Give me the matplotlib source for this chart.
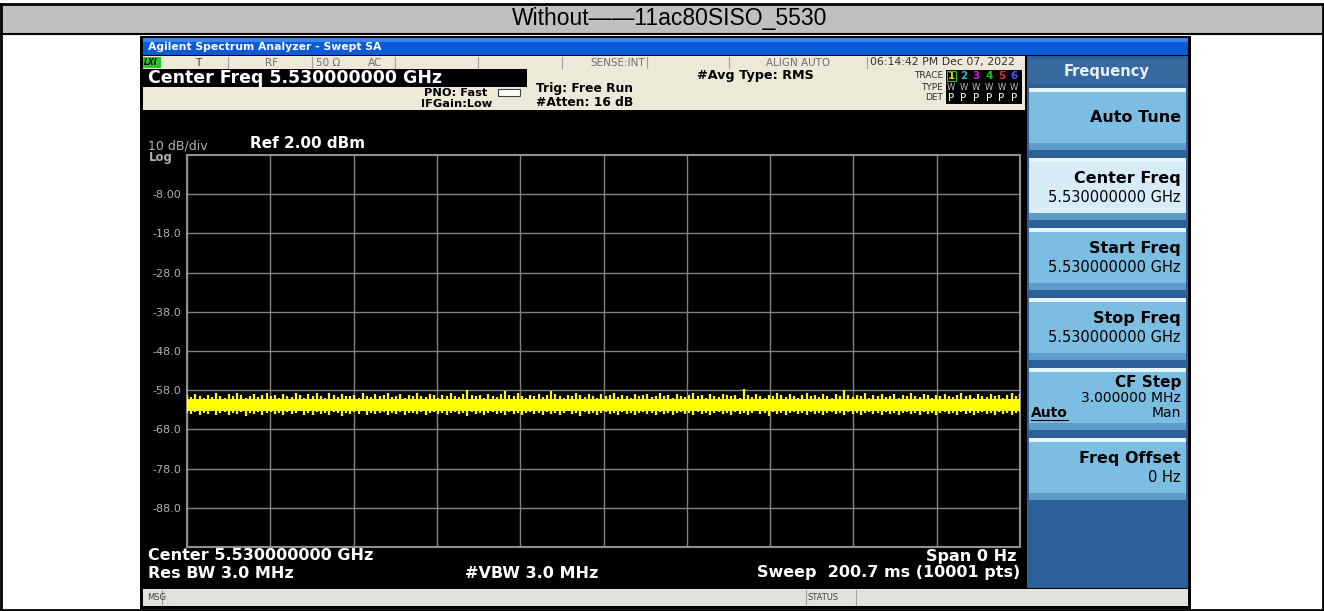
import numpy as np
import matplotlib
matplotlib.use("Agg")
import matplotlib.pyplot as plt
from matplotlib.patches import Rectangle

# the analyzer screen uses a wide sans; DejaVu is the closest match
plt.rcParams['font.family'] = ['DejaVu Sans']

# ---- data ----
title_text = "Without\u2014\u201411ac80SISO_5530"
ref_level = 2.0          # dBm, top of the graticule
db_per_div = 10
n_div = 10
sweep_ms = 200.7
core_top = -60.2         # solid part of the noise band, dBm
core_bottom = -63.2
ytick_labels = ["-8.00", "-18.0", "-28.0", "-38.0", "-48.0", "-58.0", "-68.0", "-78.0", "-88.0"]

# per-column max / min of the zero-span noise trace (dBm)
trace_hi = [
    -59.2, -59.8, -58.9, -59.5, -60.0, -59.1, -59.7, -58.7, -59.4, -59.9,
    -59.0, -59.6, -58.6, -59.3, -59.9, -59.5, -58.9, -59.7, -59.2, -58.8,
    -59.6, -59.1, -59.9, -58.9, -59.4, -59.8, -58.7, -59.3, -59.9, -59.0,
    -59.6, -58.8, -59.4, -59.9, -58.6, -59.3, -59.8, -59.0, -59.6, -59.4,
    -59.1, -59.9, -58.8, -59.5, -59.8, -58.9, -59.6, -59.2, -58.7, -59.8,
    -59.4, -59.0, -59.9, -59.1, -59.6, -58.6, -59.4, -59.8, -58.9, -59.3,
    -59.9, -59.1, -59.6, -58.8, -59.4, -59.8, -59.0, -58.0, -59.3, -59.6,
    -59.1, -59.9, -58.9, -59.4, -59.8, -59.0, -58.2, -59.3, -59.6, -58.8,
    -59.4, -59.9, -59.1, -59.6, -58.9, -59.8, -59.2, -58.1, -59.0, -59.5,
    -59.9, -59.1, -59.6, -58.7, -59.3, -59.8, -59.0, -59.4, -59.9, -58.9,
    -59.6, -59.2, -58.8, -59.8, -59.1, -59.4, -59.9, -59.0, -59.6, -59.2,
    -58.9, -59.8, -59.4, -58.7, -59.6, -59.1, -59.9, -59.0, -59.4, -59.8,
    -59.2, -58.8, -59.6, -59.1, -59.9, -58.9, -59.4, -59.8, -59.0, -59.3,
    -59.6, -59.1, -59.9, -57.6, -59.3, -59.8, -58.9, -59.4, -59.9, -59.1,
    -59.6, -58.8, -59.3, -59.8, -59.0, -59.4, -59.9, -59.1, -58.7, -59.6,
    -59.2, -59.8, -58.9, -59.4, -59.9, -59.0, -59.6, -58.0, -59.3, -59.8,
    -59.1, -59.4, -58.8, -59.9, -59.2, -59.6, -59.0, -59.8, -59.4, -58.9,
    -59.9, -59.1, -59.6, -58.7, -59.4, -59.8, -59.0, -59.3, -59.9, -59.1,
    -59.6, -58.9, -59.4, -59.8, -59.1, -58.8, -59.6, -59.2, -59.9, -59.0,
    -59.4, -59.8, -58.9, -59.6, -59.1, -59.9, -59.2, -58.8, -59.4, -59.0,
]
trace_lo = [
    -63.8, -64.1, -63.5, -64.4, -63.7, -64.0, -63.4, -64.2, -63.9, -63.6,
    -64.3, -63.7, -64.0, -63.5, -64.5, -63.8, -64.1, -63.6, -64.2, -63.9,
    -63.5, -64.0, -63.7, -64.3, -63.6, -64.1, -63.8, -63.4, -64.2, -63.9,
    -64.4, -63.6, -64.0, -63.7, -64.2, -63.5, -63.9, -64.6, -63.8, -64.1,
    -63.6, -64.0, -63.4, -64.3, -63.7, -64.1, -63.9, -63.5, -64.2, -63.8,
    -64.0, -63.6, -64.4, -63.7, -63.9, -64.1, -63.5, -64.2, -63.8, -63.6,
    -64.0, -63.7, -64.3, -63.9, -63.5, -64.1, -63.8, -64.5, -63.6, -64.0,
    -63.7, -64.2, -63.9, -63.5, -64.1, -63.8, -64.4, -63.6, -64.0, -63.7,
    -64.2, -63.9, -63.5, -64.1, -63.8, -64.3, -63.6, -64.0, -63.7, -64.2,
    -63.9, -63.4, -64.1, -63.8, -64.5, -63.6, -64.0, -63.7, -64.2, -63.9,
    -63.5, -64.1, -63.8, -64.3, -63.6, -64.0, -63.7, -64.4, -63.9, -63.5,
    -64.1, -63.8, -64.2, -63.6, -64.0, -63.7, -64.3, -63.9, -63.5, -64.1,
    -63.8, -64.4, -63.6, -64.0, -63.7, -64.2, -63.9, -63.5, -64.1, -63.8,
    -64.3, -63.6, -64.0, -63.7, -64.2, -63.9, -63.4, -64.1, -63.8, -64.5,
    -63.6, -64.0, -63.7, -64.2, -63.9, -63.5, -64.1, -63.8, -64.3, -63.6,
    -64.0, -63.7, -64.4, -63.9, -63.5, -64.1, -63.8, -64.2, -63.6, -64.0,
    -63.7, -64.3, -63.9, -63.5, -64.1, -63.8, -64.2, -63.6, -64.0, -63.7,
    -64.4, -63.9, -63.5, -64.1, -63.8, -64.2, -63.6, -64.0, -63.7, -64.3,
    -63.9, -63.5, -64.1, -63.8, -64.2, -63.6, -64.0, -63.7, -64.4, -63.9,
    -63.5, -64.1, -63.8, -64.3, -63.6, -64.0, -63.7, -64.2, -63.9, -63.5,
]

# soft keys on the right panel: (title, value line)
softkeys = [
    ("Auto Tune", None),
    ("Center Freq", "5.530000000 GHz"),
    ("Start Freq", "5.530000000 GHz"),
    ("Stop Freq", "5.530000000 GHz"),
    ("CF Step", "3.000000 MHz"),
    ("Freq Offset", "0 Hz"),
]

W, H = 1324, 611
fig = plt.figure(figsize=(W / 100, H / 100), dpi=100)
bg = fig.add_axes([0, 0, 1, 1])
bg.set_xlim(0, W)
bg.set_ylim(H, 0)
bg.axis("off")


def box(x0, y0, x1, y1, fc, ec="none", lw=0, z=1):
    bg.add_patch(Rectangle((x0, y0), x1 - x0, y1 - y0, facecolor=fc, edgecolor=ec, linewidth=lw, zorder=z))


def txt(x, y, s, size=8, color="black", ha="left", weight="normal", **kw):
    bg.text(x, y, s, fontsize=size, color=color, ha=ha, va="center", fontweight=weight, **kw)


# ---- surrounding table ----
box(0, 4, W, 34, "#c0c0c0", z=1)
bg.plot([0, W], [4, 4], color="black", lw=2, zorder=2)
bg.plot([0, W], [34, 34], color="black", lw=1.5, zorder=2)
bg.plot([0, W], [609.5, 609.5], color="black", lw=2, zorder=2)
bg.plot([1, 1], [4, 611], color="black", lw=2, zorder=2)
bg.plot([1322.5, 1322.5], [4, 611], color="black", lw=2, zorder=2)
bg.text(670, 19, title_text, fontsize=16.5, ha="center", va="center",
        family=['Liberation Sans Narrow', 'Liberation Sans', 'DejaVu Sans'], zorder=3)

# ---- analyzer window ----
box(140, 36, 1191, 609, "black", z=2)
box(143, 38, 1188, 55, "#0b5bd8", z=3)
box(143, 38, 1188, 42, "#3c85f0", z=3)
txt(148, 46.5, "Agilent Spectrum Analyzer - Swept SA", size=7.8, color="white", weight="bold", zorder=4)

# status row
box(143, 56, 1025, 69, "#ece9d8", z=3)
box(143, 57, 161, 68, "#22cc22", z=4)
txt(144, 62.5, "LXI", size=5.5, color="black", weight="bold", style="italic", zorder=5)
for xs in [228, 312, 395, 478, 562, 647, 729, 867]:
    bg.plot([xs, xs], [57, 68], color="#a0a0a0", lw=0.8, zorder=4)
txt(198, 62.5, "T", size=7.5, color="#404040", ha="center", zorder=5)
txt(271, 62.5, "RF", size=7.5, color="#707070", ha="center", zorder=5)
txt(328, 62.5, "50 \u03a9", size=7.5, color="#707070", ha="center", zorder=5)
txt(375, 62.5, "AC", size=7.5, color="#707070", ha="center", zorder=5)
txt(645, 62.5, "SENSE:INT", size=7.5, color="#707070", ha="right", zorder=5)
txt(798, 62.5, "ALIGN AUTO", size=7.5, color="#707070", ha="center", zorder=5)
txt(870, 62.5, "06:14:42 PM Dec 07, 2022", size=7.8, color="#303030", zorder=5)

# settings area
box(143, 69, 1025, 110, "#ece9d8", z=3)
box(143, 69, 527, 87, "black", z=4)
txt(148, 78, "Center Freq 5.530000000 GHz", size=12.5, color="white", weight="bold", zorder=5)
txt(487, 93, "PNO: Fast", size=8.2, weight="bold", ha="right", zorder=5)
txt(492, 104, "IFGain:Low", size=8.2, weight="bold", ha="right", zorder=5)
bg.add_patch(Rectangle((498, 89), 22, 7, facecolor="white", edgecolor="#404040", lw=0.8, zorder=5))
txt(536, 88.5, "Trig: Free Run", size=8.8, weight="bold", zorder=5)
txt(536, 102, "#Atten: 16 dB", size=8.8, weight="bold", zorder=5)
txt(697, 76, "#Avg Type: RMS", size=9.2, weight="bold", zorder=5)
txt(943, 75.5, "TRACE", size=6.5, color="#303030", ha="right", zorder=5)
txt(943, 87, "TYPE", size=6.5, color="#303030", ha="right", zorder=5)
txt(943, 98, "DET", size=6.5, color="#303030", ha="right", zorder=5)
box(946, 70, 1022, 104, "black", z=4)
trace_cols = ["#d8d800", "#20c0c0", "#d020d0", "#20c020", "#e03030", "#5050ff"]
for k, c in enumerate(trace_cols):
    cx = 951 + k * 12.6
    txt(cx, 76, str(k + 1), size=7.5, color=c, ha="center", weight="bold", zorder=5)
    txt(cx, 87.5, "W", size=6, color="#c0c0c0", ha="center", zorder=5)
    txt(cx, 98, "P", size=7.5, color="white", ha="center", zorder=5)
bg.add_patch(Rectangle((946.5, 70.5), 9, 10, facecolor="none", edgecolor="#30c030", lw=0.8, zorder=6))

# graph area
box(143, 110, 1025, 588, "black", z=3)
txt(148, 146, "10 dB/div", size=9, color="#b0b0b0", zorder=5)
txt(149, 157, "Log", size=8.5, color="#b0b0b0", weight="bold", zorder=5)
txt(250, 144, "Ref 2.00 dBm", size=11, color="white", weight="bold", zorder=5)
txt(148, 556, "Center 5.530000000 GHz", size=11.5, color="white", weight="bold", zorder=5)
txt(148, 573, "Res BW 3.0 MHz", size=11.5, color="white", weight="bold", zorder=5)
txt(465, 573, "#VBW 3.0 MHz", size=11.5, color="white", weight="bold", zorder=5)
txt(1017, 556, "Span 0 Hz", size=11.5, color="white", weight="bold", ha="right", zorder=5)
txt(1020, 573, "Sweep  200.7 ms (10001 pts)", size=11.5, color="white", weight="bold", ha="right", zorder=5)

# message bar
box(143, 589, 1188, 606, "#e4e2dc", z=3)
for xs in [162, 806, 856]:
    bg.plot([xs, xs], [590, 605], color="#a0a0a0", lw=0.8, zorder=4)
txt(147, 597, "MSG", size=6, color="#404040", zorder=5)
txt(808, 597, "STATUS", size=6, color="#404040", zorder=5)

# right soft-key panel
box(1027, 56, 1188, 588, "#2d5f98", z=3)
box(1029, 59, 1186, 84, "#386aa2", z=4)
txt(1107, 71.5, "Frequency", size=10.5, color="#e8f0ff", ha="center", weight="bold", zorder=5)
for k, (title, val) in enumerate(softkeys):
    top = 88 + 70 * k
    body = "#d8ecf8" if k == 1 else "#7cbde2"
    box(1029, top, 1186, top + 62, body, z=4)
    box(1029, top, 1186, top + 4, "#e6f4fc", z=5)
    box(1029, top + 55, 1186, top + 62, "#5c9cc8", z=5)
    if val is None:
        txt(1181, top + 29, title, size=11.5, weight="bold", ha="right", zorder=6)
    elif title == "CF Step":
        txt(1181, top + 15, title, size=11, weight="bold", ha="right", zorder=6)
        txt(1181, top + 29.5, val, size=10, ha="right", zorder=6)
        txt(1181, top + 45, "Man", size=10, ha="right", zorder=6)
        txt(1031, top + 45, "Auto", size=10, weight="bold", zorder=6)
        bg.plot([1031, 1068], [top + 52, top + 52], color="black", lw=0.8, zorder=6)
    else:
        txt(1181, top + 20, title, size=11.5, weight="bold", ha="right", zorder=6)
        txt(1181, top + 40, val, size=10.5, ha="right", zorder=6)

# ---- the graticule with the trace ----
gl, gr, gt, gb = 187, 1020, 155, 547
ax = fig.add_axes([gl / W, (H - gb) / H, (gr - gl) / W, (gb - gt) / H])
ax.set_facecolor("black")
ax.set_zorder(5)
bottom_level = ref_level - db_per_div * n_div
ax.set_ylim(bottom_level, ref_level)
ax.set_xlim(0, sweep_ms)
ax.set_xticks(np.linspace(0, sweep_ms, n_div + 1))
ax.set_xticklabels([])
ytick_vals = [float(s) for s in ytick_labels]
ax.set_yticks(ytick_vals)
ax.set_yticklabels(ytick_labels, color="#b0b0b0", fontsize=8)
ax.tick_params(length=0, pad=4)
ax.grid(True, color="#808080", lw=1)
for sp in ax.spines.values():
    sp.set_color("#909090")
    sp.set_linewidth(1.5)

t = np.linspace(0, sweep_ms, len(trace_hi))
ax.fill_between([0, sweep_ms], core_top, core_bottom, color="#ffff00", lw=0, zorder=3)
ax.vlines(t, trace_lo, trace_hi, color="#ffff00", lw=1.6, zorder=3)

fig.savefig("out.png", dpi=100, facecolor="white")
